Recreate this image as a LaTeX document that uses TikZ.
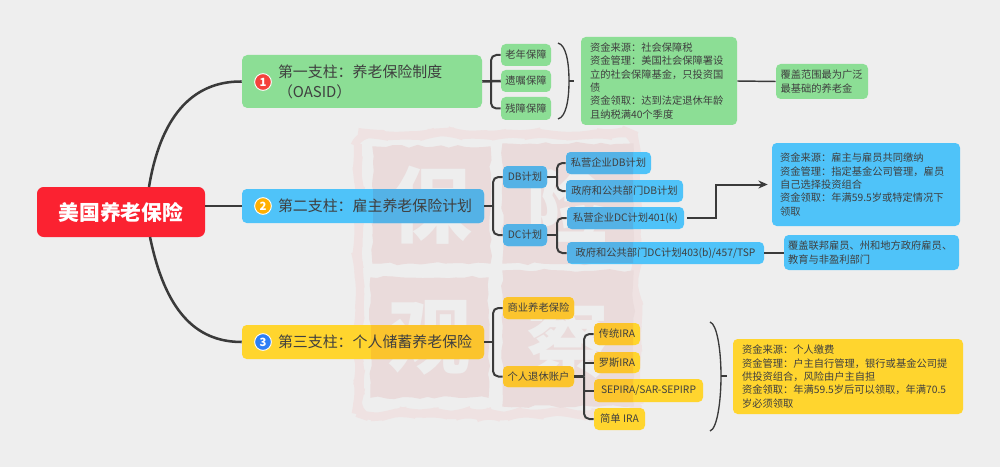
\documentclass[tikz,border=0pt]{standalone}
\usepackage{fontspec}
\setmainfont{Noto Sans CJK SC}
\usetikzlibrary{arrows.meta,decorations.pathmorphing}
\definecolor{bgc}{HTML}{EEEEEE}
\definecolor{redc}{HTML}{FB2231}
\definecolor{grn}{HTML}{8CDE95}
\definecolor{blu}{HTML}{4FC3F9}
\definecolor{yel}{HTML}{FFD52E}
\definecolor{bluT}{HTML}{54B2E6}
\definecolor{yelT}{HTML}{FBC42D}
\definecolor{ink}{HTML}{3F3F3F}
\definecolor{lnk}{HTML}{3A3A3A}
\definecolor{wmk}{HTML}{EADBDB}
\definecolor{wmr}{HTML}{EFE2E2}
\definecolor{bad1}{HTML}{F4423C}
\definecolor{bad2}{HTML}{FFB000}
\definecolor{bad3}{HTML}{2D7FF5}
\newcommand\tbox[7]{\fill[#5,rounded corners=3.5pt] (#1,#2) rectangle (#3,#4);
  \begin{scope}
  \clip[rounded corners=3.5pt] (#1,#2) rectangle (#3,#4);
  \fill[#6] (373,147) rectangle (490,263) (503,144) rectangle (633,263) (371,278) rectangle (488,397) (503,271) rectangle (633,406);
  #7
  \end{scope}}
\tikzset{
  sz/.style 2 args={minimum width=#1*0.75pt,minimum height=#2*0.75pt},
  base/.style={rounded corners=3.5pt,inner sep=0pt,text=ink},
  leaf/.style={base,font=\fontsize{7.7}{10}\selectfont},
  note/.style={base,font=\fontsize{7.7}{10}\selectfont,align=left},
  pillar/.style={base,rounded corners=4pt,font=\fontsize{11.2}{15}\selectfont,align=left},
  badge/.style={circle,draw=white,line width=0.7pt,minimum size=12.5pt,inner sep=0pt,text=white,font=\fontsize{8.5}{9}\bfseries\selectfont},
  conn/.style={draw=lnk,line width=1.5pt,rounded corners=4pt},
  trunk/.style={draw=lnk,line width=1.9pt},
  brk/.style={draw=lnk,line width=1pt},
  seal/.style={fill=wmk,draw=wmk,line width=1pt,decorate,decoration={random steps,segment length=6pt,amplitude=1.1pt}},
  glyph/.style={text=bgc,font=\fontsize{62}{62}\bfseries\selectfont,inner sep=0pt}
}
\pgfmathsetseed{7}
\begin{document}
\begin{tikzpicture}[x=0.75pt,y=-0.75pt]
\useasboundingbox (0,0) rectangle (1000,467);
\fill[bgc] (0,0) rectangle (1000,467);

% seal watermark
\draw[draw=wmr,line width=6pt,rounded corners=10pt,decorate,decoration={random steps,segment length=8pt,amplitude=2pt}] (358,134) rectangle (636,414);
\fill[seal] (373,147) rectangle (490,263);
\fill[seal] (503,144) rectangle (633,263);
\fill[seal] (371,278) rectangle (488,397);
\fill[seal] (503,271) rectangle (633,406);
\node[glyph] (g1) at (431,205) {保};
\node[glyph] (g2) at (568,205) {险};
\node[glyph] (g3) at (430,338) {观};
\node[glyph] (g4) at (568,340) {察};

% box fills with the seal showing through
\tbox{242}{189}{484}{223}{blu}{bluT}{}
\tbox{242}{325}{484}{359}{yel}{yelT}{}
\tbox{503}{166}{547}{188}{blu}{bluT}{}
\tbox{503}{224}{547}{246}{blu}{bluT}{}
\tbox{566}{152}{651}{174}{blu}{bluT}{}
\tbox{566}{180}{683}{202}{blu}{bluT}{}
\tbox{567}{207}{684}{229}{blu}{bluT}{}
\tbox{567}{242}{764}{264}{blu}{bluT}{}
\tbox{503}{297}{574}{319}{yel}{yelT}{}
\tbox{503}{366}{574}{387}{yel}{yelT}{}
\tbox{594}{323}{640}{345}{yel}{yelT}{}
\tbox{594}{352}{640}{373}{yel}{yelT}{}
\tbox{594}{379}{703}{402}{yel}{yelT}{}

% nodes
\node[base,sz={168}{50},fill=redc,text=white,rounded corners=5pt,font=\fontsize{15.6}{18}\bfseries\selectfont] (root) at (121,212) {美国养老保险};

\node[pillar,sz={240}{53},fill=grn,text width=240*0.75pt] (p1) at (362,81.5) {\hspace*{27pt}第一支柱^^^^ff1a养老保险制度\\\hspace*{27pt}^^^^ff08OASID^^^^ff09};
\node[pillar,sz={242}{34},text width=242*0.75pt] (p2) at (363,206) {\hspace*{27pt}第二支柱^^^^ff1a雇主养老保险计划};
\node[pillar,sz={242}{34},text width=242*0.75pt] (p3) at (363,342) {\hspace*{27pt}第三支柱^^^^ff1a个人储蓄养老保险};
\node[badge,fill=bad1] (n1) at (263,82) {1};
\node[badge,fill=bad2] (n2) at (263,206) {2};
\node[badge,fill=bad3] (n3) at (263,342) {3};

\node[leaf,sz={50}{22},fill=grn] (l1) at (526,55) {老年保障};
\node[leaf,sz={50}{22},fill=grn] (l2) at (526,81) {遗嘱保障};
\node[leaf,sz={50}{23},fill=grn] (l3) at (526,108.5) {残障保障};
\node[note,sz={156}{88},fill=grn,text width=138*0.75pt] (s1) at (659,81) {资金来源^^^^ff1a社会保障税\\资金管理^^^^ff1a美国社会保障署设\\立的社会保障基金^^^^ff0c只投资国\\债\\资金领取^^^^ff1a达到法定退休年龄\\且纳税满40个季度};
\node[note,sz={92}{35},fill=grn,text width=83*0.75pt] (c1) at (822,81.5) {覆盖范围最为广泛\\最基础的养老金};

\node[leaf,sz={44}{22}] (db) at (525,177) {DB计划};
\node[leaf,sz={44}{22}] (dc) at (525,235) {DC计划};
\node[leaf,sz={85}{22}] (d1) at (608.5,163) {私营企业DB计划};
\node[leaf,sz={117}{22}] (d2) at (624.5,191) {政府和公共部门DB计划};
\node[leaf,sz={117}{22}] (d3) at (625.5,218) {私营企业DC计划401(k)};
\node[leaf,sz={197}{22}] (d4) at (665.5,253) {政府和公共部门DC计划403(b)/457/TSP};
\node[note,sz={188}{83},fill=blu,text width=172*0.75pt] (b1) at (866,184.5) {资金来源^^^^ff1a雇主与雇员共同缴纳\\资金管理^^^^ff1a指定基金公司管理^^^^ff0c雇员\\自己选择投资组合\\资金领取^^^^ff1a年满59.5岁或特定情况下\\领取};
\node[note,sz={175}{35},fill=blu,text width=167*0.75pt] (b2) at (871.5,252.5) {覆盖联邦雇员、州和地方政府雇员、\\教育与非盈利部门};

\node[leaf,sz={71}{22}] (i1) at (538.5,308) {商业养老保险};
\node[leaf,sz={71}{21}] (i2) at (538.5,376.5) {个人退休账户};
\node[leaf,sz={46}{22}] (r1) at (617,334) {传统IRA};
\node[leaf,sz={46}{21}] (r2) at (617,362.5) {罗斯IRA};
\node[leaf,sz={109}{23}] (r3) at (648.5,390.5) {SEPIRA/SAR-SEPIRP};
\node[leaf,sz={51}{22},fill=yel] (r4) at (619.5,419) {简单 IRA};
\node[note,sz={230}{75},fill=yel,text width=212*0.75pt] (y1) at (848,376.5) {资金来源^^^^ff1a个人缴费\\资金管理^^^^ff1a户主自行管理^^^^ff0c银行或基金公司提\\供投资组合^^^^ff0c风险由户主自担\\资金领取^^^^ff1a年满59.5岁后可以领取^^^^ff0c年满70.5\\岁必须领取};

% root connectors
\coordinate (rt) at (149,187);
\coordinate (rb) at (150,237);
\draw[trunk] (rt) .. controls (160,120) and (190,81) .. (p1.west);
\draw[trunk] (root.east |- p2.west) -- (p2.west);
\draw[trunk] (rb) .. controls (165,310) and (195,342) .. (p3.west);

% branch connectors
\draw[trunk] (p1.east) -- (l2.west);
\draw[conn] (491,81) |- (l1.west);
\draw[conn] (491,81) |- (l3.west);
\draw[trunk] (p2.east) -- (493,206);
\draw[conn] (493,206) |- (db.west);
\draw[conn] (493,206) |- (dc.west);
\draw[trunk] (db.east) -- (557,177);
\draw[conn] (557,177) |- (d1.west);
\draw[conn] (557,177) |- (d2.west);
\draw[trunk] (dc.east) -- (557,235);
\draw[conn] (557,235) |- (d3.west);
\draw[conn] (557,235) |- (d4.west);
\draw[trunk] (p3.east) -- (493,342);
\draw[conn] (493,342) |- (i1.west);
\draw[conn] (493,342) |- (i2.west);
\draw[trunk] (i2.east) -- (584,376.5);
\draw[conn] (584,376.5) |- (r1.west);
\draw[conn] (584,376.5) |- (r4.west);
\draw[conn] (584,362.5) -- (r2.west);
\draw[conn] (584,390.5) -- (r3.west);
\draw[trunk] (d4.east) -- (b2.west |- d4.east);
\draw[draw=lnk,line width=1.1pt] (s1.east) -- (c1.west);
\draw[draw=lnk,line width=1.5pt,-{Stealth[length=7pt,width=6pt]},shorten <=2.2pt,shorten >=3pt]
  (d3.east) -- (716,218) |- (b1.west);

% brackets
\coordinate (bt1) at (558,43);
\coordinate (bm1) at (569,81);
\coordinate (bb1) at (558,119);
\draw[brk] (bt1) .. controls (566,45) and (569,62) .. (bm1) .. controls (569,100) and (566,117) .. (bb1);
\draw[brk] (bm1) -- (574,81);
\coordinate (bt2) at (710,322);
\coordinate (bm2) at (721,376);
\coordinate (bb2) at (710,431);
\draw[brk] (bt2) .. controls (717,324) and (721,350) .. (bm2) .. controls (721,402) and (717,429) .. (bb2);
\draw[brk] (bm2) -- (727,376);
\end{tikzpicture}
\end{document}
